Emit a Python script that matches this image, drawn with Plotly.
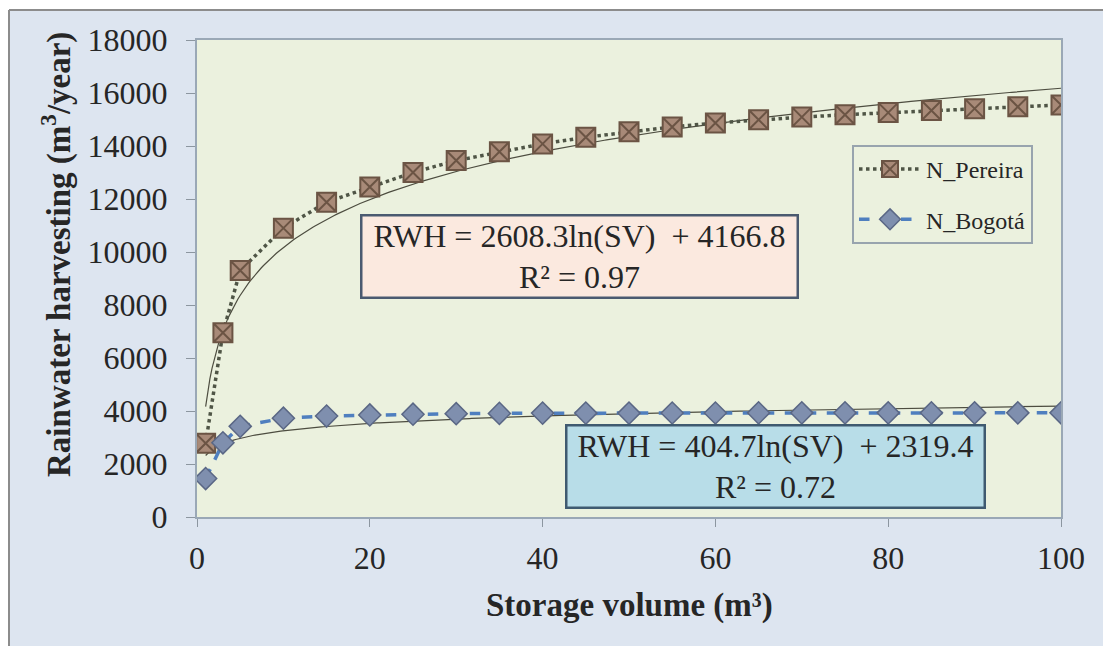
import numpy as np
import plotly.graph_objects as go

# Storage volume (m3) and annual rainwater harvesting (m3/year)
storage_volume = [1, 3, 5, 10, 15, 20, 25, 30, 35, 40, 45, 50, 55, 60, 65, 70, 75, 80, 85, 90, 95, 100]
rwh_pereira = [2780, 6950, 9300, 10900, 11880, 12450, 13000, 13450, 13780, 14080, 14330, 14540,
               14720, 14870, 14990, 15090, 15180, 15260, 15340, 15410, 15480, 15550]
rwh_bogota = [1450, 2800, 3420, 3730, 3810, 3850, 3880, 3900, 3910, 3920, 3920, 3920,
              3925, 3925, 3930, 3930, 3930, 3930, 3930, 3930, 3930, 3930]

# Logarithmic trendline coefficients: RWH = a*ln(SV) + b
fit_pereira = (2608.3, 4166.8, 0.97)
fit_bogota = (404.7, 2319.4, 0.72)

y_ticks = [0, 2000, 4000, 6000, 8000, 10000, 12000, 14000, 16000, 18000]
y_tick_labels = [str(v) for v in y_ticks]
x_ticks = [0, 20, 40, 60, 80, 100]
x_tick_labels = [str(v) for v in x_ticks]

FONT = "Liberation Serif"
W, H = 1103, 646
L, R, T, B = 197, 1061, 40, 517  # plot area in pixels


def px(xp):
    return (xp - L) / (R - L)


def py(yp):
    return (B - yp) / (B - T)


sv_fit = np.linspace(1, 100, 400)

fig = go.Figure()

fig.add_trace(go.Scatter(
    x=sv_fit, y=fit_pereira[0] * np.log(sv_fit) + fit_pereira[1],
    mode="lines", line=dict(color="#4d4d40", width=1.2), showlegend=False, hoverinfo="skip"))
fig.add_trace(go.Scatter(
    x=sv_fit, y=fit_bogota[0] * np.log(sv_fit) + fit_bogota[1],
    mode="lines", line=dict(color="#4d4d40", width=1.2), showlegend=False, hoverinfo="skip"))

fig.add_trace(go.Scatter(
    x=storage_volume, y=rwh_pereira, name="N_Pereira", legendgroup="p",
    mode="lines+markers",
    line=dict(color="#4f5546", width=3.5, dash="dot"),
    marker=dict(symbol="square-x", size=19, color="#a88a78", line=dict(color="#6b5444", width=2))))
fig.add_trace(go.Scatter(
    x=storage_volume, y=rwh_bogota, name="N_Bogotá", legendgroup="b",
    mode="lines+markers",
    line=dict(color="#4f7fbf", width=3.5, dash="dash"),
    marker=dict(symbol="diamond", size=17, color="#7f8fae", line=dict(color="#5a6785", width=1.5))))

annotations = [
    dict(text=f"RWH = {fit_pereira[0]}ln(SV)  + {fit_pereira[1]}<br>R² = {fit_pereira[2]}",
         x=px(579), y=py(256.5), xref="paper", yref="paper", xanchor="center", yanchor="middle",
         showarrow=False, font=dict(family=FONT, size=32, color="#262626"), align="center",
         bgcolor="#fbe9df", bordercolor="#4a5a70", borderwidth=2.5, borderpad=2,
         width=430, height=76),
    dict(text=f"RWH = {fit_bogota[0]}ln(SV)  + {fit_bogota[1]}<br>R² = {fit_bogota[2]}",
         x=px(775), y=py(466.5), xref="paper", yref="paper", xanchor="center", yanchor="middle",
         showarrow=False, font=dict(family=FONT, size=32, color="#262626"), align="center",
         bgcolor="#b8dde8", bordercolor="#3f5a70", borderwidth=2.5, borderpad=2,
         width=412, height=76),
    dict(text="<b>Storage volume (m³)</b>", x=px(629), y=py(605), xref="paper", yref="paper",
         xanchor="center", yanchor="middle",
         showarrow=False, font=dict(family=FONT, size=33, color="#262626")),
    dict(text="<b>Rainwater harvesting (m<sup>3</sup>/year)</b>", x=px(56), y=py(255),
         xref="paper", yref="paper", xanchor="center", yanchor="middle",
         showarrow=False, textangle=-90,
         font=dict(family=FONT, size=33, color="#262626")),
]

shapes = [
    # white strip around the outer frame and the frame line
    dict(type="rect", xref="paper", yref="paper", x0=px(0), x1=px(W), y0=py(0), y1=py(10),
         fillcolor="white", line=dict(width=0), layer="above"),
    dict(type="rect", xref="paper", yref="paper", x0=px(0), x1=px(9), y0=py(0), y1=py(H),
         fillcolor="white", line=dict(width=0), layer="above"),
    dict(type="line", xref="paper", yref="paper", x0=px(9), x1=px(W), y0=py(10), y1=py(10),
         line=dict(color="#8c8c8c", width=2)),
    dict(type="line", xref="paper", yref="paper", x0=px(9), x1=px(9), y0=py(10), y1=py(H),
         line=dict(color="#8c8c8c", width=2)),
]

fig.update_layout(
    width=W, height=H,
    margin=dict(l=L, r=W - R, t=T, b=H - B, pad=0, autoexpand=False),
    paper_bgcolor="#dde5f0",
    plot_bgcolor="#ebf1de",
    font=dict(family=FONT, size=28, color="#262626"),
    showlegend=True,
    legend=dict(
        xref="paper", yref="paper",
        x=px(852), y=py(145), xanchor="left", yanchor="top",
        bgcolor="#ebf1de", bordercolor="#98a4ae", borderwidth=2,
        font=dict(family=FONT, size=24, color="#262626"),
        tracegroupgap=16, itemwidth=62,
    ),
    annotations=annotations,
    shapes=shapes,
)

fig.update_xaxes(
    range=[0, 100], tickvals=x_ticks, ticktext=x_tick_labels, ticks="outside", ticklen=8,
    tickcolor="#8c96a0", showgrid=False, zeroline=False, showline=True, linecolor="#9aa8b6",
    linewidth=2, mirror=True, automargin=False, ticklabelstandoff=4,
    tickfont=dict(family=FONT, size=32, color="#262626"),
)
fig.update_yaxes(
    range=[0, 18000], tickvals=y_ticks, ticktext=y_tick_labels, ticks="outside", ticklen=9,
    tickcolor="#8c96a0", showgrid=False, zeroline=False, showline=True, linecolor="#9aa8b6",
    linewidth=2, mirror=True, automargin=False,
    tickfont=dict(family=FONT, size=32, color="#262626"), ticklabelstandoff=12,
)

fig.write_html("out.html")
